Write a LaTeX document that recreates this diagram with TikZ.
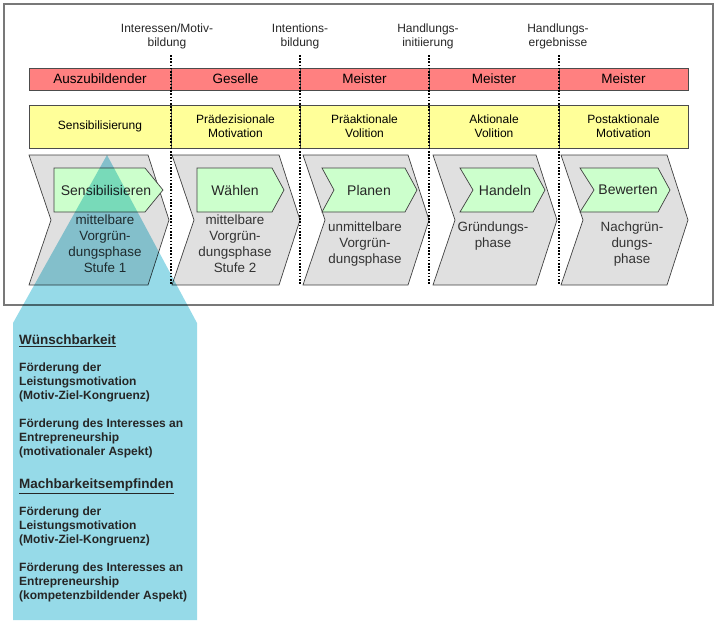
\documentclass[tikz,border=0pt]{standalone}
\usepackage{fontspec}
\setmainfont{Liberation Sans}
\usetikzlibrary{calc}

\definecolor{rolered}{RGB}{255,128,128}
\definecolor{phaseyellow}{RGB}{255,255,153}
\definecolor{stagegray}{RGB}{224,224,224}
\definecolor{actgreen}{RGB}{204,255,204}
\definecolor{wishcyan}{RGB}{150,218,232}
\definecolor{framegray}{RGB}{120,120,120}

\begin{document}
\begin{tikzpicture}[x=1pt, y=-1pt,
    frame/.style={draw=framegray, line width=1.6pt},
    rolebar/.style={draw=black!70, fill=rolered, line width=0.8pt},
    phasebar/.style={draw=black!70, fill=phaseyellow, line width=0.8pt},
    stagebox/.style={draw=black!75, fill=stagegray, line width=0.7pt},
    actbox/.style={draw=black!75, fill=actgreen, line width=0.7pt},
    phaseline/.style={line width=1.3pt, dash pattern=on 1.6pt off 1.6pt},
    wish/.style={fill=wishcyan, blend mode=multiply},
    roletext/.style={font=\fontsize{13.5}{15}\selectfont, inner sep=0pt},
    phasetext/.style={font=\fontsize{12}{14.5}\selectfont, align=center, inner sep=0pt},
    marktext/.style={font=\fontsize{12}{14}\selectfont, align=center, inner sep=0pt, text=black!85},
    acttext/.style={font=\fontsize{14}{16}\selectfont, inner sep=0pt, text=black!85},
    stagetext/.style={font=\fontsize{13.4}{16}\selectfont, align=center, inner sep=0pt, text=black!80},
    wishtext/.style={font=\bfseries\fontsize{12}{14}\selectfont, align=left, inner sep=0pt, text=black!85}]

  \useasboundingbox (0,0) rectangle (720,629);

  \draw[frame] (4,4) rectangle (713,305);

  % Personen und Handlungsphasen
  \foreach \l/\r/\role/\phase [count=\i] in {
      29/171/Auszubildender/Sensibilisierung,
      171/300/Geselle/{Prädezisionale\\Motivation},
      300/429/Meister/{Präaktionale\\Volition},
      429/559/Meister/{Aktionale\\Volition},
      559/688/Meister/{Postaktionale\\Motivation}}
  {
    \draw[rolebar] (\l,68) rectangle (\r,90);
    \node[roletext] (role\i) at ({(\l+\r)/2},79) {\role};
    \draw[phasebar] (\l,105) rectangle (\r,148);
    \node[phasetext] (phase\i) at ({(\l+\r)/2},126) {\phase};
  }

  % Gruendungsphasen
  \foreach \l/\r/\x/\y/\stage [count=\i] in {
      29/169/105/244/{mittelbare\\Vorgrün-\\dungsphase\\Stufe 1},
      172/300/235/244/{mittelbare\\Vorgrün-\\dungsphase\\Stufe 2},
      303/429/365/244/{unmittelbare\\Vorgrün-\\dungsphase},
      433/557/493/236/{Gründungs-\\phase},
      561/688/632/244/{Nachgrün-\\dungs-\\phase}}
  {
    \draw[stagebox] (\l,155) -- ({\r-21},155) -- (\r,220) -- ({\r-21},285)
      -- (\l,285) -- ({\l+22},220) -- cycle;
    \node[stagetext] (stage\i) at (\x,\y) {\stage};
  }

  \foreach \l/\n/\t/\r/\x/\act [count=\i] in {
      54/54/145/163/106/Sensibilisieren,
      197/197/272/284/235/Wählen,
      322/334/405/417/369/Planen,
      460/473/533/545/505/Handeln,
      580/594/658/670/628/Bewerten}
  {
    \draw[actbox] (\l,168) -- (\t,168) -- (\r,190) -- (\t,212) -- (\l,212)
      -- (\n,190) -- cycle;
    \node[acttext] (act\i) at (\x,190) {\act};
  }

  % Uebergaenge
  \foreach \x/\mark [count=\i] in {
      167/{Interessen/Motiv-\\bildung},
      300/{Intentions-\\bildung},
      428/{Handlungs-\\initiierung},
      558/{Handlungs-\\ergebnisse}}
    \node[marktext] (mark\i) at (\x,36) {\mark};

  \foreach \x in {171,300,429,559}
    \draw[phaseline] (\x,55) -- (\x,285);

  \fill[wish] (107,155) -- (197,323) -- (197,620) -- (13,620) -- (13,323) -- cycle;

  \node[wishtext, anchor=north west] (wishes) at (19,335) {%
    {\fontsize{13.5}{14}\selectfont\underline{Wünschbarkeit}}\\[13pt]
    Förderung der\\
    Leistungsmotivation\\
    (Motiv-Ziel-Kongruenz)\\[14pt]
    Förderung des Interesses an\\
    Entrepreneurship\\
    (motivationaler Aspekt)\\[19pt]
    {\fontsize{13.5}{14}\selectfont\underline{Machbarkeitsempfinden}}\\[13pt]
    Förderung der\\
    Leistungsmotivation\\
    (Motiv-Ziel-Kongruenz)\\[14pt]
    Förderung des Interesses an\\
    Entrepreneurship\\
    (kompetenzbildender Aspekt)};
\end{tikzpicture}
\end{document}
